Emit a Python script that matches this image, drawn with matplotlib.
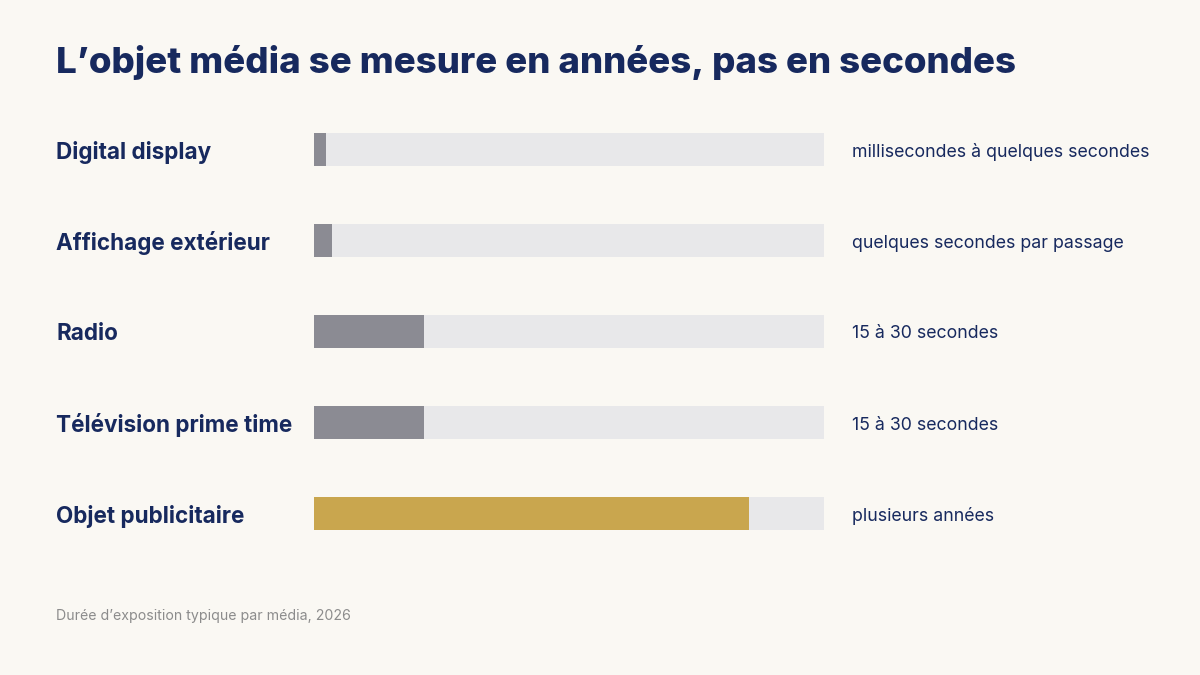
import matplotlib
matplotlib.use("Agg")
import matplotlib.pyplot as plt
from matplotlib.transforms import blended_transform_factory, offset_copy

# durations on a 0-100 visual scale (track = 100)
medias = ["Digital display", "Affichage extérieur", "Radio",
          "Télévision prime time", "Objet publicitaire"]
values = [2.4, 3.5, 21.6, 21.6, 85.3]
notes = ["millisecondes à quelques secondes", "quelques secondes par passage",
         "15 à 30 secondes", "15 à 30 secondes", "plusieurs années"]
highlight = [False, False, False, False, True]

BG = "#faf8f3"
NAVY = "#17295e"
GREY_BAR = "#8b8b93"
TRACK = "#e8e8ea"
GOLD = "#c9a64e"

plt.rcParams["font.family"] = ["Inter", "DejaVu Sans"]

W, H = 1200, 675
fig = plt.figure(figsize=(12, 6.75), dpi=100, facecolor=BG)
ax = fig.add_axes([314 / W, 1 - 559 / H, 510 / W, 455 / H])
ax.set_facecolor(BG)

y = list(range(len(medias)))
ax.barh(y, [100] * len(medias), height=0.37, color=TRACK, left=0)
ax.barh(y, values, height=0.37,
        color=[GOLD if h else GREY_BAR for h in highlight], left=0)
ax.set_xlim(0, 100)
ax.set_ylim(len(medias) - 0.5, -0.5)
ax.axis("off")

tr = blended_transform_factory(fig.transFigure, ax.transData)
tr = offset_copy(tr, fig=fig, y=-2.5, units="dots")
for i, (m, n) in enumerate(zip(medias, notes)):
    ax.text(56 / W, i, m, transform=tr, ha="left", va="center",
            fontsize=16.2, fontweight="bold", color=NAVY)
    ax.text(852 / W, i, n, transform=tr, ha="left", va="center",
            fontsize=12.75, color=NAVY)

fig.text(56 / W, 1 - 62 / H, "L\u2019objet média se mesure en années, pas en secondes",
         ha="left", va="center", fontsize=26.4, fontweight="heavy", color=NAVY)
fig.text(56 / W, 1 - 616 / H, "Durée d\u2019exposition typique par média, 2026",
         ha="left", va="center", fontsize=10.2, color="#8c8c8c")

fig.savefig("out.png", dpi=100, facecolor=BG)
